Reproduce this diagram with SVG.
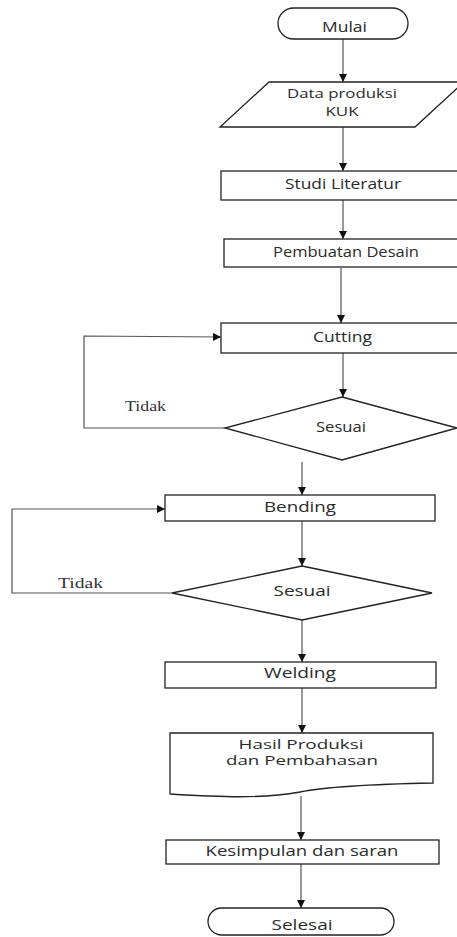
<svg xmlns="http://www.w3.org/2000/svg" width="457" height="937" viewBox="0 0 457 937">
<style>
.shape{fill:#fff;stroke:#222;stroke-width:1.3}
.conn{fill:none;stroke:#555;stroke-width:1.2}
.t{font-family:"Open Sans","Noto Sans","Liberation Sans",sans-serif;font-size:14px;fill:#2a2a2a;text-anchor:middle}
.t2{font-size:12.5px}
.s{font-family:"Liberation Serif","Times New Roman",serif;font-size:14px;fill:#333}
</style>
<defs>
<marker id="ah" viewBox="0 0 10 10" refX="10" refY="5" markerWidth="8" markerHeight="8" markerUnits="userSpaceOnUse" orient="auto">
<path d="M0,0 L10,5 L0,10 z" fill="#111"/>
</marker>
</defs>
<rect width="457" height="937" fill="#fff"/>
<g id="connectors">
<line class="conn" x1="343" y1="39" x2="343" y2="82" marker-end="url(#ah)"/>
<line class="conn" x1="343" y1="127" x2="343" y2="171" marker-end="url(#ah)"/>
<line class="conn" x1="343" y1="200" x2="343" y2="239" marker-end="url(#ah)"/>
<line class="conn" x1="341" y1="268" x2="341" y2="323" marker-end="url(#ah)"/>
<line class="conn" x1="343" y1="353" x2="343" y2="397" marker-end="url(#ah)"/>
<polyline class="conn" points="225,428 84,428 84,336 221,337" marker-end="url(#ah)"/>
<line class="conn" x1="302" y1="462" x2="302" y2="495" marker-end="url(#ah)"/>
<line class="conn" x1="302" y1="521" x2="302" y2="566" marker-end="url(#ah)"/>
<polyline class="conn" points="172,593 12,593 12,509 165,509" marker-end="url(#ah)"/>
<line class="conn" x1="302" y1="620" x2="302" y2="662" marker-end="url(#ah)"/>
<line class="conn" x1="302" y1="688" x2="302" y2="733" marker-end="url(#ah)"/>
<line class="conn" x1="301" y1="796" x2="301" y2="840" marker-end="url(#ah)"/>
<line class="conn" x1="301" y1="864" x2="301" y2="908" marker-end="url(#ah)"/>
<text class="s" x="125" y="411" textLength="41" lengthAdjust="spacingAndGlyphs">Tidak</text>
<text class="s" x="58" y="588" textLength="45" lengthAdjust="spacingAndGlyphs">Tidak</text>
</g>
<g id="mulai">
<rect class="shape" x="278" y="8" width="130" height="31" rx="15.5"/>
<text class="t" x="344.5" y="32" textLength="45" lengthAdjust="spacingAndGlyphs">Mulai</text>
</g>
<g id="data">
<polygon class="shape" points="269,82 464,82 415,127 220,127"/>
<text class="t t2" x="342" y="98" textLength="110" lengthAdjust="spacingAndGlyphs">Data produksi</text>
<text class="t t2" x="342" y="116" textLength="33" lengthAdjust="spacingAndGlyphs">KUK</text>
</g>
<g id="studi">
<rect class="shape" x="221" y="171" width="250" height="29"/>
<text class="t" x="343" y="189" textLength="116" lengthAdjust="spacingAndGlyphs">Studi Literatur</text>
</g>
<g id="desain">
<rect class="shape" x="224" y="239" width="250" height="28"/>
<text class="t" x="346" y="257" textLength="146" lengthAdjust="spacingAndGlyphs">Pembuatan Desain</text>
</g>
<g id="cutting">
<rect class="shape" x="221" y="323" width="250" height="30"/>
<text class="t" x="342.5" y="342" textLength="59" lengthAdjust="spacingAndGlyphs">Cutting</text>
</g>
<g id="sesuai1">
<polygon class="shape" points="342,397 457,428 342,460 225,428"/>
<text class="t" x="341" y="432" textLength="50" lengthAdjust="spacingAndGlyphs">Sesuai</text>
</g>
<g id="bending">
<rect class="shape" x="165" y="495" width="270" height="26"/>
<text class="t" x="300" y="512" textLength="72" lengthAdjust="spacingAndGlyphs">Bending</text>
</g>
<g id="sesuai2">
<polygon class="shape" points="302,566 432,593 302,620 172,593"/>
<text class="t" x="302" y="596" textLength="57" lengthAdjust="spacingAndGlyphs">Sesuai</text>
</g>
<g id="welding">
<rect class="shape" x="165" y="662" width="271" height="26"/>
<text class="t" x="300" y="678" textLength="72" lengthAdjust="spacingAndGlyphs">Welding</text>
</g>
<g id="hasil">
<path class="shape" d="M170,733 H433 V783 C380,784 330,786 300,792 C260,799 220,797 170,794 Z"/>
<text class="t t2" x="301" y="749" textLength="125" lengthAdjust="spacingAndGlyphs">Hasil Produksi</text>
<text class="t t2" x="302" y="765" textLength="152" lengthAdjust="spacingAndGlyphs">dan Pembahasan</text>
</g>
<g id="kesimpulan">
<rect class="shape" x="166" y="840" width="273" height="24"/>
<text class="t" x="302" y="856" textLength="193" lengthAdjust="spacingAndGlyphs">Kesimpulan dan saran</text>
</g>
<g id="selesai">
<rect class="shape" x="208" y="908" width="186" height="27" rx="13.5"/>
<text class="t" x="302" y="930" textLength="61" lengthAdjust="spacingAndGlyphs">Selesai</text>
</g>
</svg>
